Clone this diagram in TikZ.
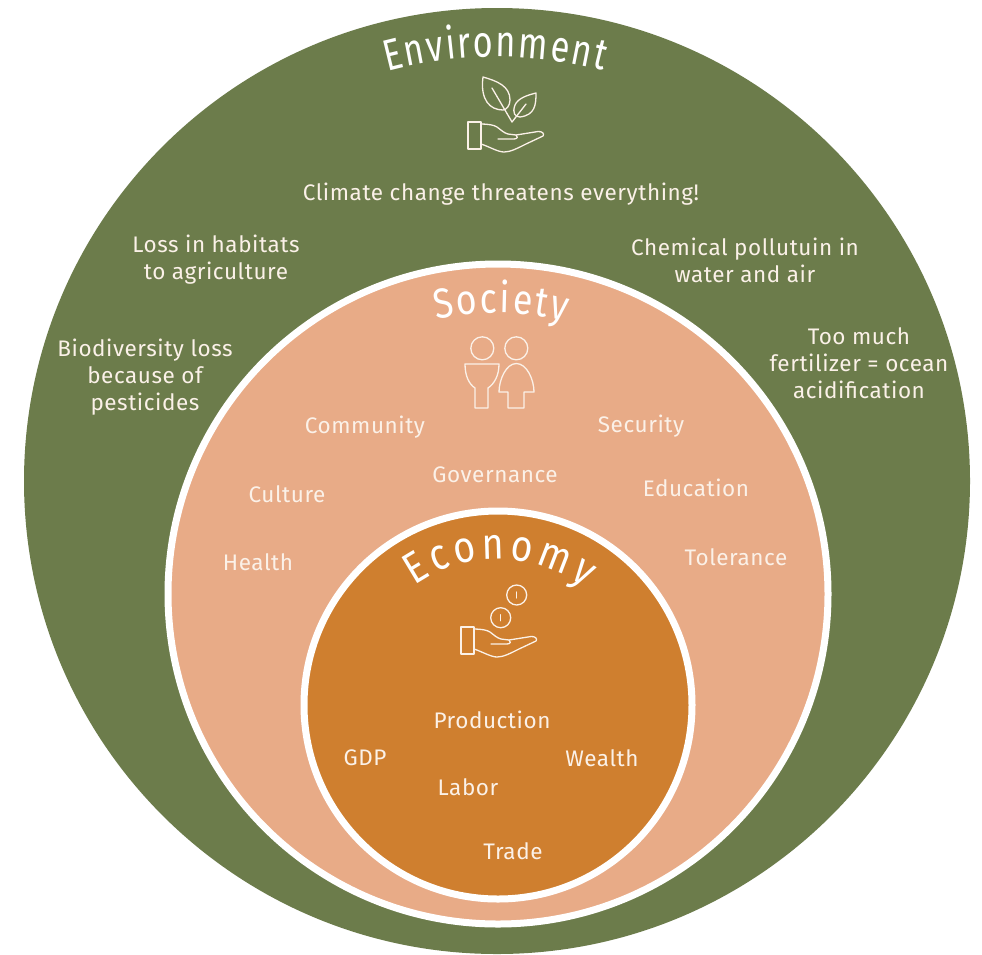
\documentclass[tikz,border=0pt]{standalone}
\usepackage{fontspec}
\setmainfont[LetterSpace=2.5]{Fira Sans}
\newfontfamily\titlefont[FakeStretch=0.85]{Fira Sans}
\newfontfamily\envtitlefont[FakeStretch=0.78]{Fira Sans}
\usetikzlibrary{decorations.text}
\definecolor{envgreen}{HTML}{6C7C4B}
\definecolor{socpeach}{HTML}{E8AB87}
\definecolor{ecoorange}{HTML}{CF7F2F}
\definecolor{softwhite}{HTML}{FBF1E8}
\tikzset{
  lbl/.style={align=center,text=softwhite,font=\fontsize{22.5}{27}\selectfont,inner sep=0pt},
  ring/.style={draw=white,line width=7pt},
  icon/.style={draw=softwhite,line width=1.3pt,line join=round,line cap=round},
  titlearc/.style={decorate,decoration={text along path,text align={fit to path},text color=white,text={#1}}},
  handicon/.pic={
    \draw[icon] (0,0) rectangle (13,27);
    \draw[icon] (13,2) .. controls (20,2) and (26,3) .. (29,5)
      .. controls (33,8) and (36,11) .. (40,12) -- (48,13) -- (70,9.5)
      .. controls (74,9) and (77,12) .. (75,14) -- (58,22)
      .. controls (48,27) and (42,30) .. (36,30) .. controls (30,30) and (22,25) .. (13,22);
    \draw[icon] (30,17) -- (46,17) .. controls (50,17) and (50,14) .. (48,13);
  }
}
\begin{document}
\begin{tikzpicture}[x=1pt,y=-1pt]
\useasboundingbox (0,0) rectangle (982,954);
\fill[white] (0,0) rectangle (982,954);
\coordinate (envc) at (497,481);
\coordinate (socc) at (498,594);
\coordinate (ecoc) at (498,705);
\fill[envgreen] (envc) circle[radius=473pt];
\fill[socpeach] (socc) circle[radius=330pt];
\draw[ring] (socc) circle[radius=330pt];
\fill[ecoorange] (ecoc) circle[radius=194pt];
\draw[ring] (ecoc) circle[radius=194pt];

% curved titles
\path[titlearc={|\envtitlefont\fontsize{44}{44}\selectfont|Environment}]
  (envc) ++(105:424pt) arc[start angle=105,end angle=75.5,radius=424pt];
\path[titlearc={|\titlefont\fontsize{42}{42}\selectfont|Society}]
  (socc) ++(102.7:281pt) arc[start angle=102.7,end angle=76,radius=281pt];
\path[titlearc={|\titlefont\fontsize{44}{44}\selectfont|Economy}]
  (ecoc) ++(125:146pt) arc[start angle=125,end angle=53.5,radius=146pt];

% environment icon
\pic at (468,122) {handicon};
\draw[icon] (483,77) .. controls (497,81) and (510,86) .. (510,100)
  .. controls (510,106) and (506,110) .. (503,110)
  .. controls (490,110) and (480,100) .. (483,77) -- cycle;
\draw[icon] (492,88) -- (512,122) -- (526,104);
\draw[icon] (536,93) .. controls (536,105) and (535,115) .. (520,117)
  .. controls (515,117) and (512,113) .. (515,105)
  .. controls (518,98) and (528,95) .. (536,93) -- cycle;

% society icon
\draw[icon] (482.3,348.3) circle[radius=11.5pt];
\draw[icon] (516.3,348.3) circle[radius=11.5pt];
\draw[icon] (465,364) -- (499,364) .. controls (499,376) and (494,384) .. (488,388)
  -- (488,408) -- (475,408) -- (475,388) .. controls (469,384) and (465,376) .. (465,364) -- cycle;
\draw[icon] (516.3,363.5) .. controls (527,363.5) and (534,380) .. (534,392)
  -- (524,392) -- (524,408) -- (508,408) -- (508,392) -- (499,392)
  .. controls (499,380) and (506,363.5) .. (516.3,363.5) -- cycle;

% economy icon
\pic at (461,627) {handicon};
\draw[icon] (516.7,595) circle[radius=10pt];
\draw[icon] (500.7,617.7) circle[radius=10pt];
\draw[icon] (516.7,592) -- (516.7,598);
\draw[icon] (500.7,614.7) -- (500.7,620.7);

% environment labels
\node[lbl] (climate) at (501,194) {Climate change threatens everything!};
\node[lbl] (habitats) at (216,260) {Loss in habitats\\to agriculture};
\node[lbl] (chemical) at (745,260) {Chemical pollutuin in\\water and air};
\node[lbl] (fert) at (859,363) {Too much\\fertilizer = ocean\\acidification};
\node[lbl] (bio) at (145,377) {Biodiversity loss\\because of\\pesticides};
% society labels
\node[lbl] (community) at (365,427) {Community};
\node[lbl] (security) at (641,426) {Security};
\node[lbl] (governance) at (495,475) {Governance};
\node[lbl] (culture) at (287,494) {Culture};
\node[lbl] (education) at (696,488) {Education};
\node[lbl] (health) at (258,562) {Health};
\node[lbl] (tolerance) at (736,557) {Tolerance};
% economy labels
\node[lbl] (production) at (492,720) {Production};
\node[lbl] (gdp) at (365,758) {GDP};
\node[lbl] (wealth) at (602,758) {Wealth};
\node[lbl] (labor) at (468,787) {Labor};
\node[lbl] (trade) at (513,851) {Trade};
\end{tikzpicture}
\end{document}
